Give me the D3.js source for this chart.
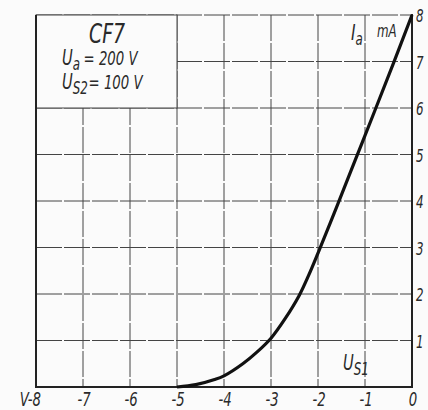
<!DOCTYPE html>
<html>
<head>
<meta charset="utf-8">
<script src="https://cdn.jsdelivr.net/npm/d3@7"></script>
<style>
  body { margin: 0; background: #fbfbfb; }
  text { font-family: "DejaVu Sans", sans-serif; font-style: italic; fill: #2a2a2a; }
</style>
</head>
<body>
<div id="chart"></div>
<script>
// CF7 pentode: anode current vs control grid voltage

const WIDTH = 428;
const HEIGHT = 410;
const MARGINS = {left: 36, right: 16, top: 15, bottom: 23};
const SQUEEZE = 0.7; // narrow lettering like the drawing

// data
const gridVoltage = [-5, -4.6, -4.2, -4, -3.6, -3.3, -3, -2.7, -2.4, -2.2, -2, -1.6, -1.2, -0.8, -0.4, 0];
const anodeCurrent = [0, 0.05, 0.16, 0.24, 0.5, 0.75, 1.05, 1.47, 1.97, 2.4, 2.88, 3.88, 4.9, 5.92, 6.95, 8.0];

const xTicks = [-8, -7, -6, -5, -4, -3, -2, -1, 0];
const xTickLabels = ["V-8", "-7", "-6", "-5", "-4", "-3", "-2", "-1", "0"];
const yTicks = [1, 2, 3, 4, 5, 6, 7, 8];

const svg = d3.select("#chart")
  .append("svg")
    .attr("width", WIDTH)
    .attr("height", HEIGHT);

const x = d3.scaleLinear()
  .domain([-8, 0])
  .range([MARGINS.left, WIDTH - MARGINS.right]);

const y = d3.scaleLinear()
  .domain([0, 8])
  .range([HEIGHT - MARGINS.bottom, MARGINS.top]);

// text placed at (px,py) and squeezed horizontally
function label(px, py, size, anchor) {
  return svg.append("g")
    .attr("transform", `translate(${px},${py}) scale(${SQUEEZE},1)`)
    .append("text")
      .attr("text-anchor", anchor || "start")
      .attr("font-size", size);
}

// grid lines
const grid = svg.append("g")
  .attr("stroke", "#444")
  .attr("stroke-width", 1)
  .attr("stroke-dasharray", "26,2");

grid.selectAll(".vline")
  .data(xTicks.slice(1, -1))
  .enter()
  .append("line")
    .attr("x1", d => x(d))
    .attr("x2", d => x(d))
    .attr("y1", y(8))
    .attr("y2", y(0));

grid.selectAll(".hline")
  .data(yTicks)
  .enter()
  .append("line")
    .attr("x1", x(-8))
    .attr("x2", x(0))
    .attr("y1", d => y(d))
    .attr("y2", d => y(d));

// box with tube data in the top left corner (hides grid)
svg.append("rect")
  .attr("x", x(-8))
  .attr("y", y(8))
  .attr("width", x(-5) - x(-8))
  .attr("height", y(6) - y(8))
  .attr("fill", "#fbfbfb")
  .attr("stroke", "#444")
  .attr("stroke-width", 1);

// frame
svg.append("path")
  .attr("d", `M${x(-8)},${y(8)} V${y(0)} H${x(0)} V${y(8) - 1}`)
  .attr("fill", "none")
  .attr("stroke", "#222")
  .attr("stroke-width", 2);

// curve
const line = d3.line()
  .x((d, i) => x(gridVoltage[i]))
  .y(d => y(d))
  .curve(d3.curveCatmullRom.alpha(0.5));

svg.append("path")
  .datum(anodeCurrent)
  .attr("fill", "none")
  .attr("stroke", "#111")
  .attr("stroke-width", 3.2)
  .attr("d", line);

// x tick labels
xTicks.forEach((d, i) => {
  label(i == 0 ? x(d) + 5 : x(d) + 1, 406, 19, i == 0 ? "end" : "middle")
    .text(xTickLabels[i]);
});

// y tick labels on the right
yTicks.forEach(d => {
  label(x(0) + 4, y(d) + 7, 17).text(d);
});

// box texts
label(107, 43, 27, "middle").text("CF7");

const ua = label(62, 65, 21);
ua.append("tspan").text("U");
ua.append("tspan").attr("dy", 5).attr("font-size", 17).text("a");
ua.append("tspan").attr("dy", -5).attr("dx", 5).attr("font-size", 19).text("= 200 V");

const us2 = label(62, 89, 21);
us2.append("tspan").text("U");
us2.append("tspan").attr("dy", 5).attr("font-size", 17).text("S2");
us2.append("tspan").attr("dy", -5).attr("dx", 1).attr("font-size", 19).text("= 100 V");

// axis names
const ia = label(351, 40, 22);
ia.append("tspan").text("I");
ia.append("tspan").attr("dy", 5).attr("font-size", 17).text("a");

label(377, 37, 17).text("mA");

const us1 = label(343, 370, 21);
us1.append("tspan").text("U");
us1.append("tspan").attr("dy", 5).attr("font-size", 17).text("S1");
</script>
</body>
</html>
